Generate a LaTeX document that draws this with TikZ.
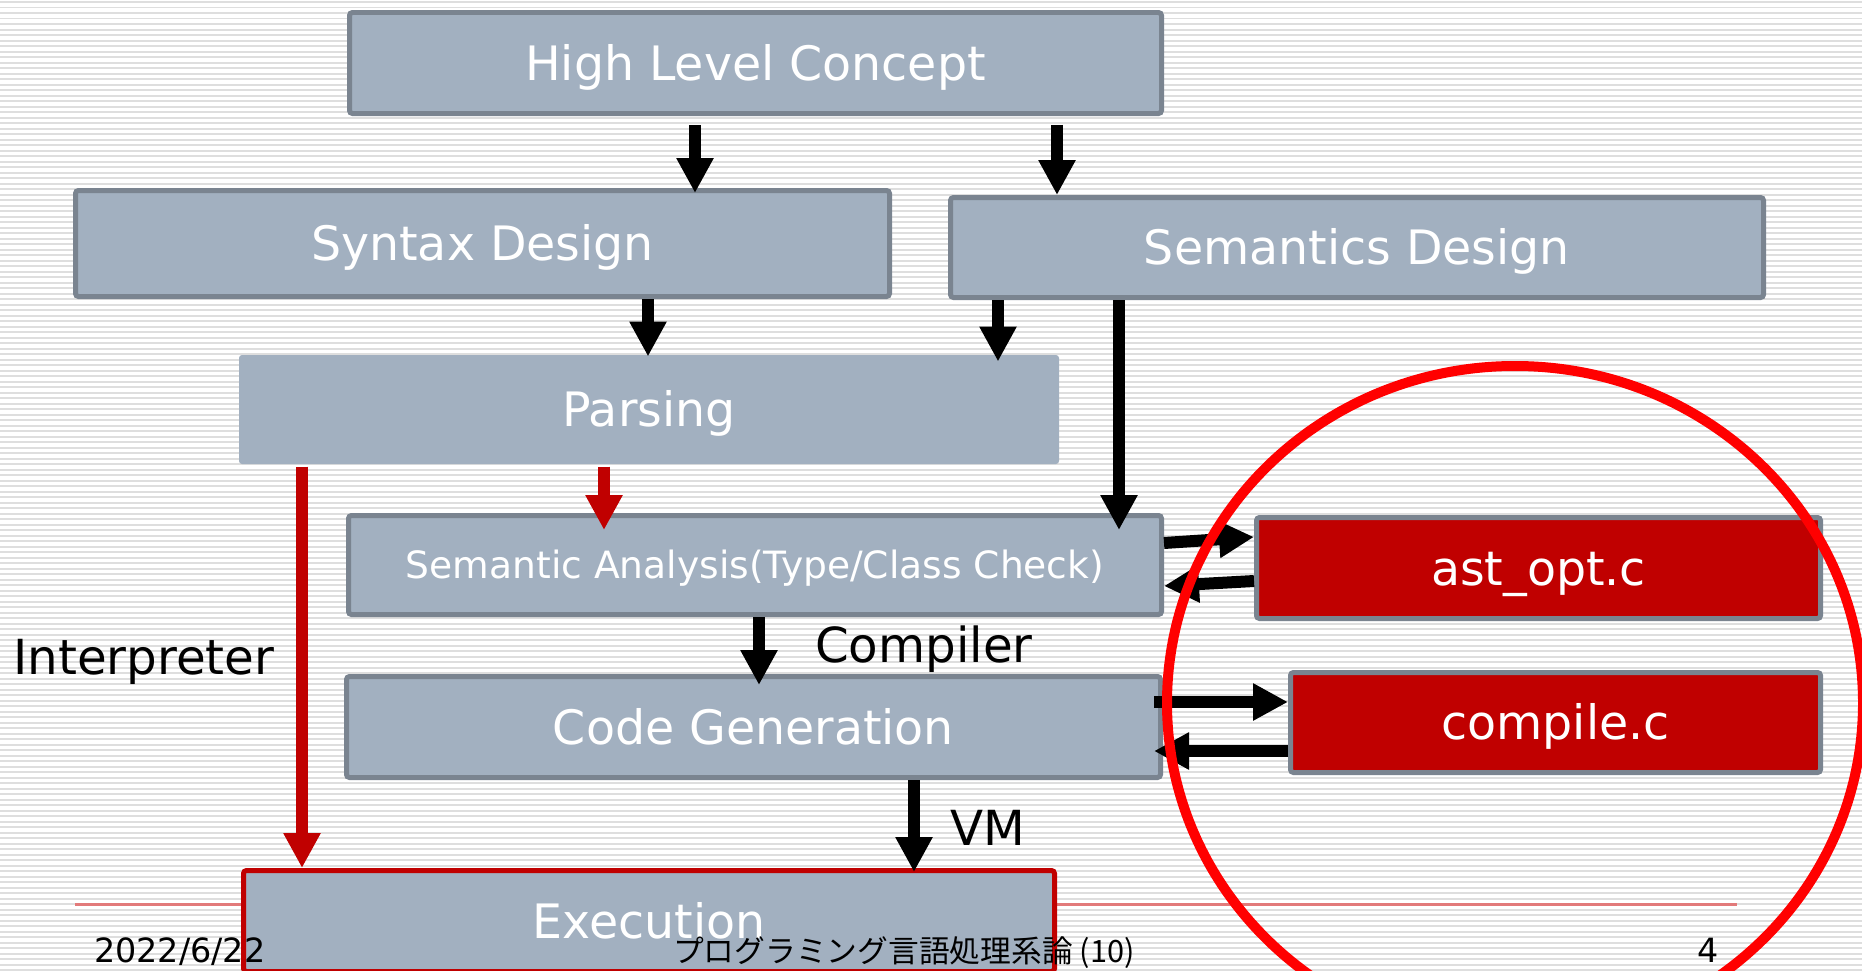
\documentclass[tikz,border=0pt]{standalone}
\usepackage{fontspec}
\setmainfont{DejaVu Sans}
\newfontfamily\jpfont{Noto Sans CJK JP}
\usetikzlibrary{arrows.meta}
\definecolor{boxfill}{RGB}{162,176,192}
\definecolor{boxline}{RGB}{122,132,144}
\definecolor{codered}{RGB}{192,0,0}
\definecolor{ringred}{RGB}{255,0,0}
\definecolor{rulered}{RGB}{226,122,122}
\definecolor{stripecol}{RGB}{222,222,222}

\begin{document}
\begin{tikzpicture}[x=0.02cm, y=-0.02cm,
  st/.style={rectangle, draw=boxline, line width=0.1cm, fill=boxfill, rounded corners=0.06cm,
             text=white, font=\fontsize{27}{32}\selectfont, text height=19.7pt, text depth=0pt, inner sep=0pt},
  wh/.style 2 args={minimum width=#1*0.02cm, minimum height=#2*0.02cm},
  ar/.style={line width=0.24cm, -{Triangle[length=0.7cm, width=0.7cm]}},
  lbl/.style={font=\fontsize{27.5}{31}\selectfont, anchor=base west},
  foot/.style={font=\fontsize{19}{22}\selectfont, anchor=base west}
]
\useasboundingbox (0,0) rectangle (1862,970);
\clip (0,0) rectangle (1862,970);

% striped slide background
\fill[white] (0,0) rectangle (1862,970);
\foreach \i in {0,...,176}
  \draw[stripecol, line width=0.04cm] (0,\i*5.5+2) -- (1862,\i*5.5+2);
\draw[rulered, line width=0.06cm] (75,904) -- (1737,904);

% stages
\node[st, wh={812}{101}] (hlc) at (755.5,63) {High Level Concept};
\node[st, wh={814}{106}] (syn) at (482.5,243.5) {Syntax Design};
\node[st, wh={813}{100}] (sem) at (1357,247.5) {Semantics Design};
\node[st, draw=none, wh={820}{109}] (prs) at (649,409.5) {Parsing};
\node[st, font=\fontsize{21.4}{25}\selectfont, text height=15.6pt, wh={813}{99}] (ana) at (755,565)
  {Semantic Analysis(Type/Class Check)};
\node[st, wh={814}{101}] (cgn) at (753.5,727) {Code Generation};
\node[st, fill=codered, wh={564}{101}] (ast) at (1538.5,568) {ast\_opt.c};
\node[st, fill=codered, wh={530}{100}] (cmp) at (1555.5,722.5) {compile.c};
\node[st, draw=codered, wh={811}{101}] (exe) at (649,921) {Execution};

% flow between stages
\foreach \a/\b/\x/\o in {hlc/syn/695/-0.1cm, hlc/sem/1057/0cm}
  \draw[ar, shorten <=0.18cm, shorten >=\o] (\a.south -| \x,0) -- (\b.north -| \x,0);
\foreach \a/\b/\x/\o in {syn/prs/648/-0.08cm, sem/prs/998/-0.18cm, sem/ana/1119/-0.34cm,
                         ana/cgn/759/-0.22cm, cgn/exe/914/-0.08cm}
  \draw[ar, shorten >=\o] (\a.south -| \x,0) -- (\b.north -| \x,0);
\draw[ar, codered, shorten >=-0.34cm] (prs.south -| 604,0) -- (ana.north -| 604,0);
\draw[ar, codered] (prs.south -| 302,0) -- (exe.north -| 302,0);

\draw[ar] (ana.east |- 0,543) -- (ast.west |- 0,537);
\draw[ar] (ast.west |- 0,581) -- (ana.east |- 0,586);
\draw[ar, shorten <=-0.18cm] (cgn.east |- 0,702) -- (cmp.west |- 0,702);
\draw[ar, shorten >=-0.18cm] (cmp.west |- 0,751) -- (cgn.east |- 0,751);

\node[lbl] (interp) at (7,674) {Interpreter};
\node[lbl] (comp) at (809,662) {Compiler};
\node[lbl] (vm) at (944,845) {VM};

% highlight round the C sources
\draw[ringred, line width=0.2cm] (1515,703) ellipse [x radius=348, y radius=337];

% footer
\node[foot] (date) at (88,962) {2022/6/22};
\node[foot, font=\jpfont\fontsize{17.5}{21}\selectfont] (title) at (667,962) {プログラミング言語処理系論 (10)};
\node[foot] (pnum) at (1691,962) {4};
\end{tikzpicture}
\end{document}
